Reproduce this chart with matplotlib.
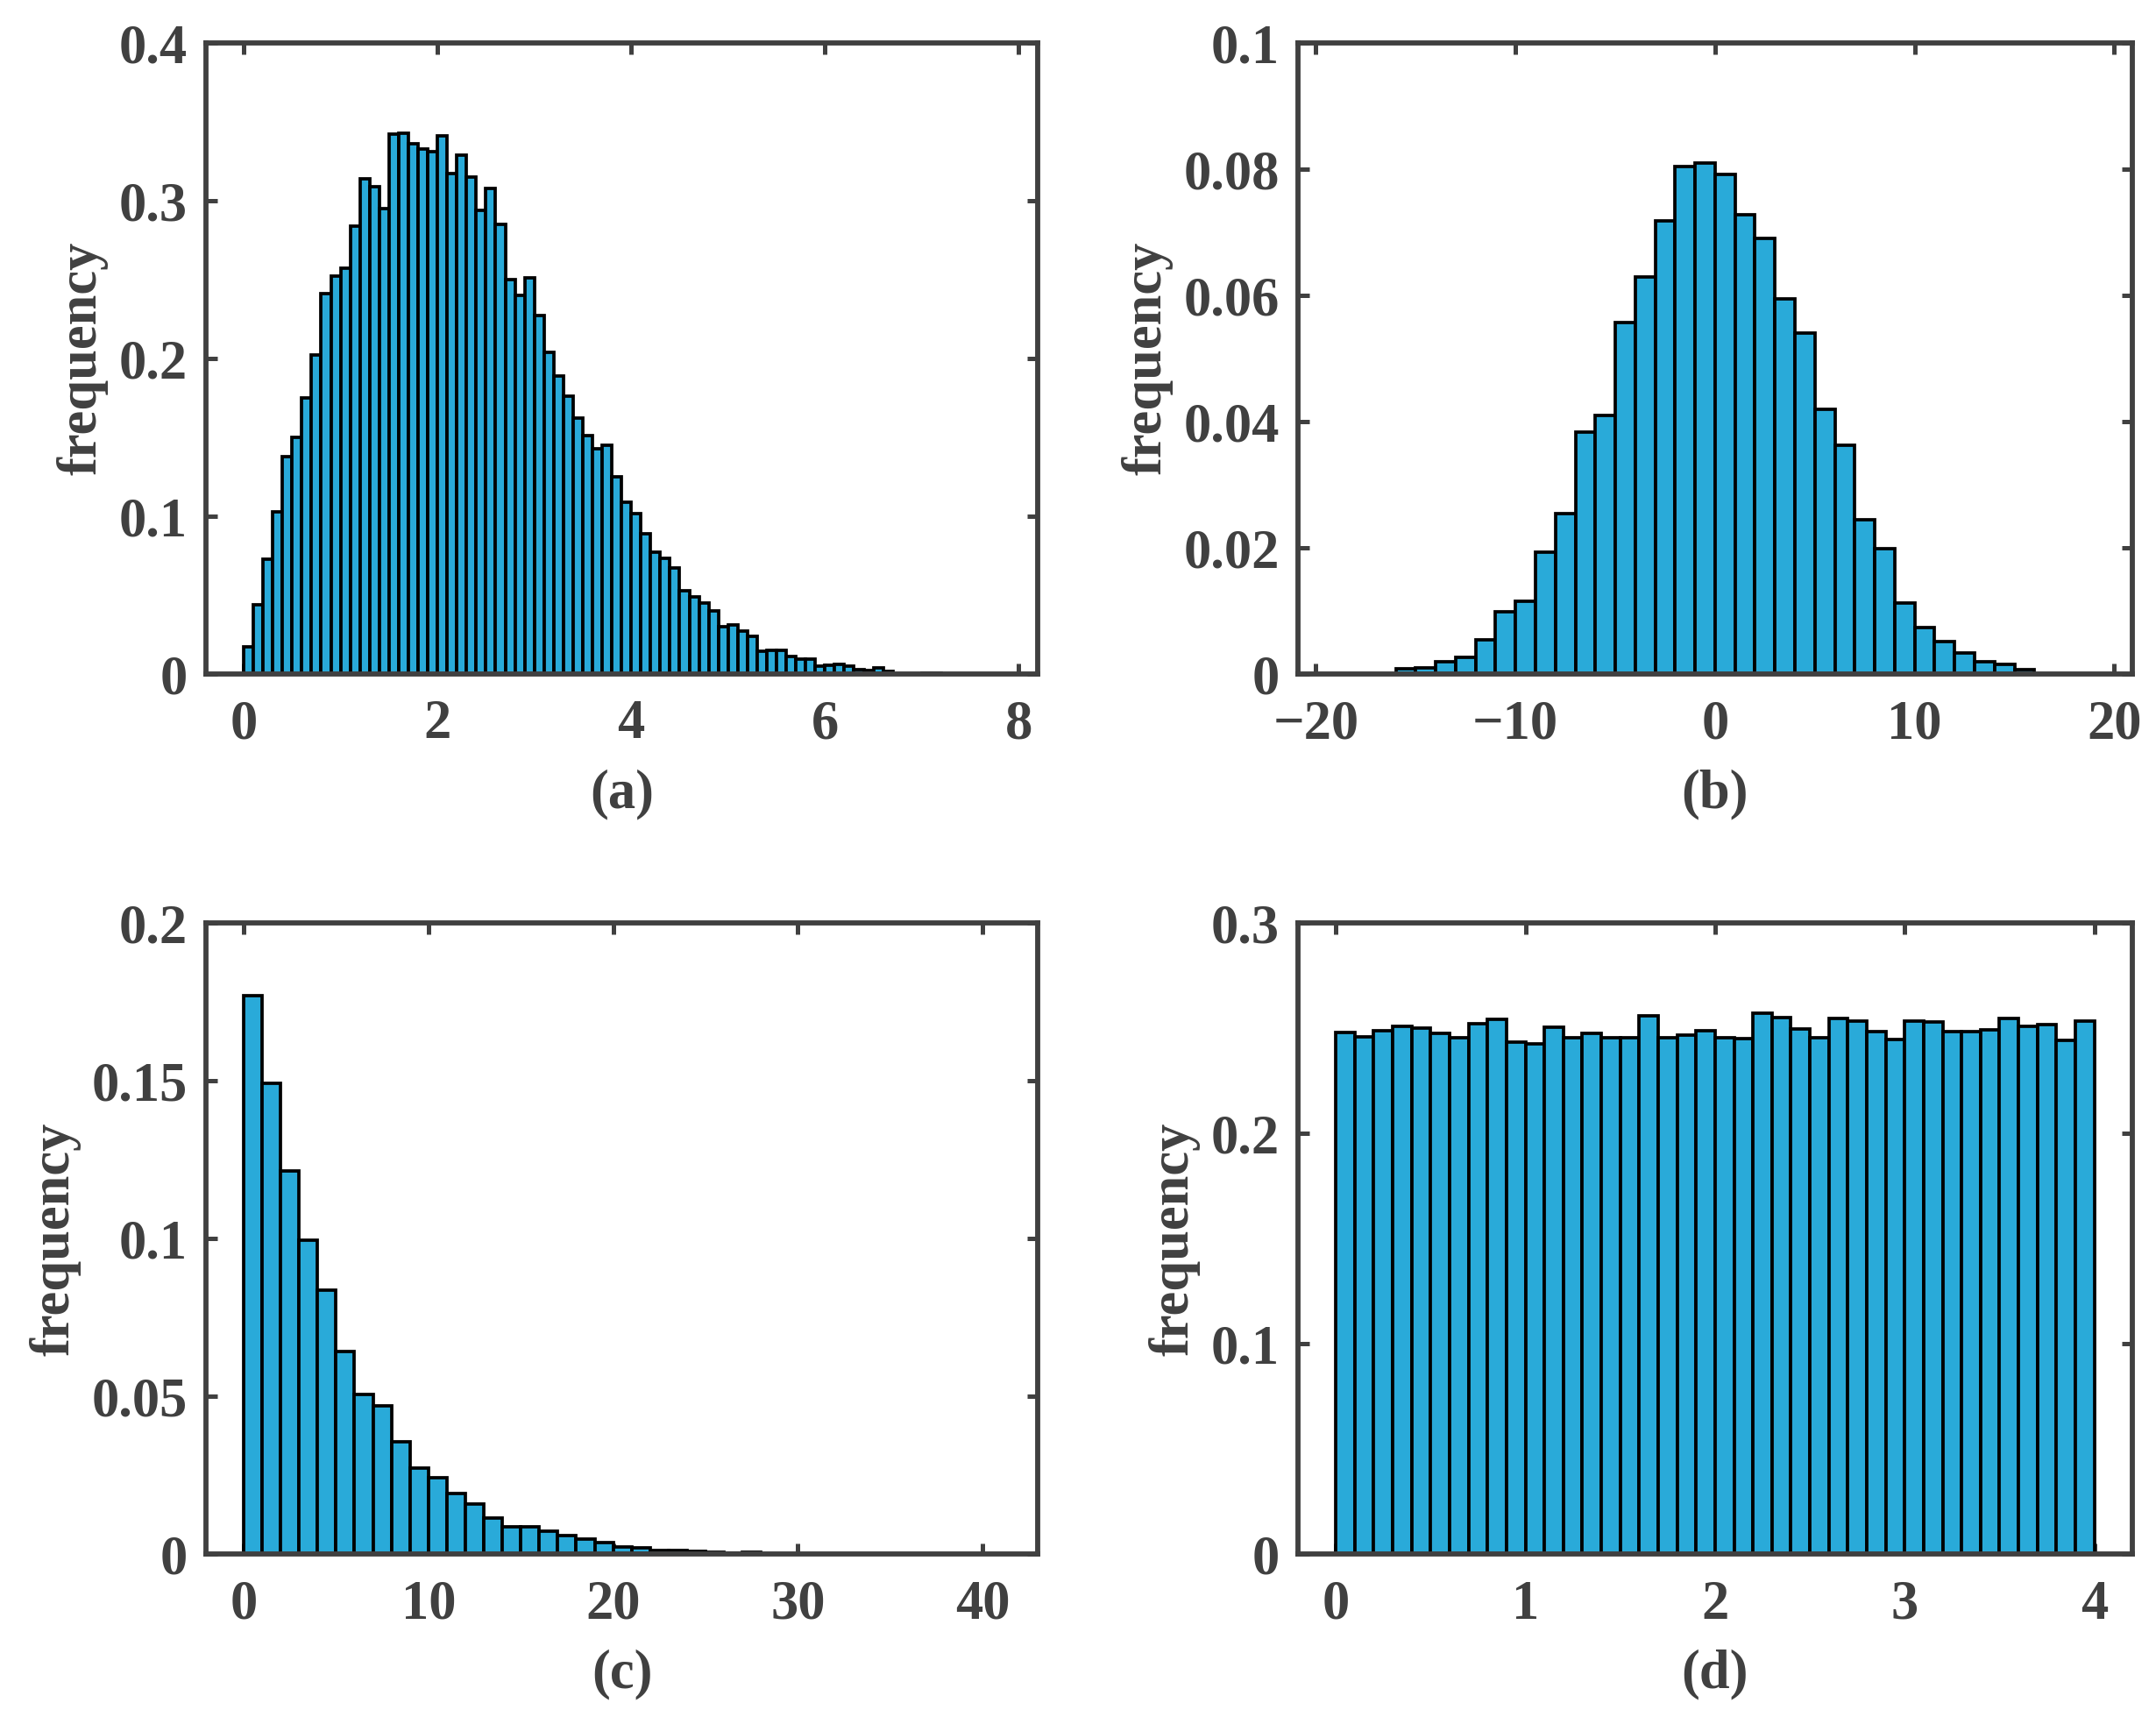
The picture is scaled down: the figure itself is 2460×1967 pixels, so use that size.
import numpy as np
import matplotlib
matplotlib.use('Agg')
import matplotlib.pyplot as plt
from matplotlib.ticker import FuncFormatter

# (a) bins of 0.1 starting at 0
a_start, a_width = 0.0, 0.1
a_freq = [0.017, 0.044, 0.073, 0.103, 0.138, 0.150, 0.175, 0.202, 0.241, 0.252,
          0.257, 0.284, 0.314, 0.309, 0.295, 0.342, 0.343, 0.336, 0.333, 0.331,
          0.341, 0.317, 0.329, 0.315, 0.294, 0.308, 0.285, 0.250, 0.240, 0.251,
          0.227, 0.204, 0.189, 0.176, 0.162, 0.151, 0.143, 0.145, 0.125, 0.109,
          0.1015, 0.089, 0.077, 0.0735, 0.067, 0.053, 0.049, 0.045, 0.040, 0.030,
          0.031, 0.027, 0.024, 0.0145, 0.015, 0.015, 0.011, 0.0096, 0.0093, 0.005,
          0.0056, 0.0059, 0.0052, 0.0028, 0.0022, 0.0041, 0.0019, 0.0, 0.0, 0.0,
          0.0004, 0.0004]

# (b) bins of 1 starting at -16
b_start, b_width = -16.0, 1.0
b_freq = [0.0008, 0.001, 0.002, 0.0026, 0.0054, 0.0098, 0.0116, 0.0193, 0.0254, 0.0383,
          0.041, 0.0557, 0.0629, 0.0718, 0.0804, 0.081, 0.0792, 0.0728, 0.069, 0.0595,
          0.054, 0.0419, 0.0363, 0.0244, 0.0198, 0.0112, 0.0073, 0.0052, 0.0034, 0.002,
          0.0015, 0.0007]

# (c) bins of 1 starting at 0
c_start, c_width = 0.0, 1.0
c_freq = [0.1771, 0.1492, 0.1216, 0.0996, 0.0836, 0.0643, 0.0505, 0.047, 0.0356, 0.0272,
          0.0241, 0.0191, 0.0158, 0.0115, 0.0088, 0.0088, 0.0073, 0.0059, 0.0047, 0.0036,
          0.0023, 0.0019, 0.0013, 0.0013, 0.0009, 0.0005, 0.0004, 0.0007, 0.0002, 0.0002,
          0.0001, 0.0002, 0.0002]

# (d) bins of 0.1 starting at 0
d_start, d_width = 0.0, 0.1
d_freq = [0.2481, 0.2461, 0.2489, 0.251, 0.250, 0.2475, 0.2455, 0.2522, 0.2542, 0.2435,
          0.2425, 0.2506, 0.2455, 0.2475, 0.2455, 0.2455, 0.256, 0.2455, 0.2469, 0.2489,
          0.2455, 0.2451, 0.2572, 0.2552, 0.2495, 0.2455, 0.2546, 0.2536, 0.2485, 0.2445,
          0.2536, 0.2532, 0.2485, 0.2485, 0.2491, 0.2546, 0.251, 0.2516, 0.2441, 0.2536]

panels = [
    ('(a)', a_start, a_width, a_freq, (-0.39, 8.2), [0, 2, 4, 6, 8], (0, 0.4), [0, 0.1, 0.2, 0.3, 0.4]),
    ('(b)', b_start, b_width, b_freq, (-20.9, 20.9), [-20, -10, 0, 10, 20], (0, 0.1),
     [0, 0.02, 0.04, 0.06, 0.08, 0.1]),
    ('(c)', c_start, c_width, c_freq, (-2.04, 43.0), [0, 10, 20, 30, 40], (0, 0.2),
     [0, 0.05, 0.1, 0.15, 0.2]),
    ('(d)', d_start, d_width, d_freq, (-0.2, 4.2), [0, 1, 2, 3, 4], (0, 0.3), [0, 0.1, 0.2, 0.3]),
]

positions = [
    [0.0955, 0.609, 0.386, 0.366],
    [0.602, 0.609, 0.387, 0.366],
    [0.0955, 0.0985, 0.386, 0.366],
    [0.602, 0.0985, 0.387, 0.366],
]

AX_COLOR = '#404040'
BAR_COLOR = '#29aad9'
FS = 15

plt.rcParams['font.family'] = ['Liberation Serif', 'DejaVu Serif']
plt.rcParams['font.weight'] = 'bold'
plt.rcParams['axes.unicode_minus'] = True


def _fmt(v, pos):
    s = f'{v:g}'
    return s.replace('-', '\u2212')


fig = plt.figure(figsize=(8.2, 6.557), dpi=300)

for (label, start, width, freq, xlim, xticks, ylim, yticks), pos in zip(panels, positions):
    ax = fig.add_axes(pos)
    freq = np.asarray(freq)
    lefts = start + width * np.arange(len(freq))
    ax.bar(lefts, freq, width=width, align='edge', color=BAR_COLOR,
           edgecolor='black', linewidth=0.9, zorder=2)
    ax.set_xlim(*xlim)
    ax.set_ylim(*ylim)
    ax.set_xticks(xticks)
    ax.set_yticks(yticks)
    ax.xaxis.set_major_formatter(FuncFormatter(_fmt))
    ax.yaxis.set_major_formatter(FuncFormatter(_fmt))
    ax.tick_params(direction='in', length=3, width=1.2, top=True, right=True,
                   colors=AX_COLOR, labelsize=FS)
    ax.tick_params(axis='x', pad=7)
    ax.tick_params(axis='y', pad=5)
    for sp in ax.spines.values():
        sp.set_color(AX_COLOR)
        sp.set_linewidth(1.4)
        sp.set_zorder(3)
    ax.set_ylabel('frequency', fontsize=FS, fontweight='bold', color=AX_COLOR, labelpad=3)
    ax.set_xlabel(label, fontsize=FS, fontweight='bold', color=AX_COLOR, labelpad=5)

fig.savefig('out.png', dpi=300)
